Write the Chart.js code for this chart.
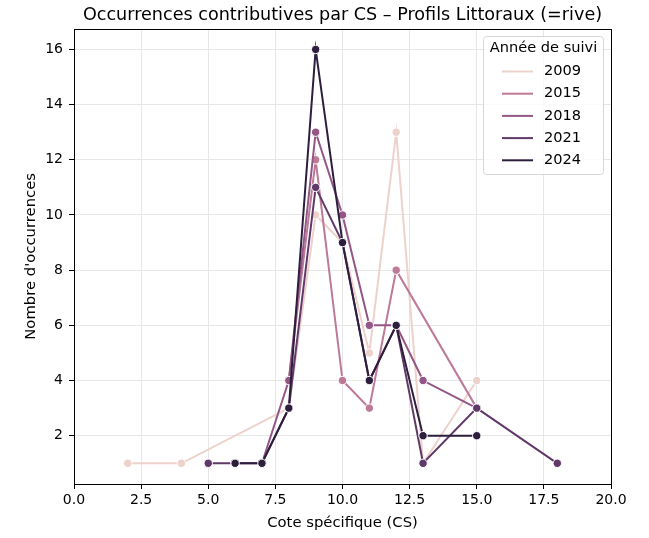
<!DOCTYPE html>
<html>
<head>
<meta charset="utf-8">
<script src="https://cdn.jsdelivr.net/npm/chart.js@4"></script>
<style>
  body { margin: 0; background: #fff; }
  canvas { display: block; }
</style>
</head>
<body>
<canvas id="c" width="649" height="538"></canvas>
<script>
// values
const years = ["2009", "2015", "2018", "2021", "2024"];
const colors = ["#edd1cb", "#bd7a98", "#935685", "#613969", "#2d1e3e"];

const cs2009 = [2, 4, 8, 9, 10, 11, 12, 13, 15];
const n2009  = [1, 1, 3, 10, 9, 5, 13, 1, 4];
const cs2015 = [8, 9, 10, 11, 12, 15];
const n2015  = [4, 12, 4, 3, 8, 3];
const cs2018 = [7, 8, 9, 10, 11, 12, 13, 15];
const n2018  = [1, 4, 13, 10, 6, 6, 4, 3];
const cs2021 = [5, 6, 7, 8, 9, 10, 11, 12, 13, 15, 18];
const n2021  = [1, 1, 1, 3, 11, 9, 4, 6, 1, 3, 1];
const cs2024 = [6, 7, 8, 9, 10, 11, 12, 13, 15];
const n2024  = [1, 1, 3, 16, 9, 4, 6, 2, 2];

const xTicks = [0, 2.5, 5, 7.5, 10, 12.5, 15, 17.5, 20];
const yTicks = [2, 4, 6, 8, 10, 12, 14, 16];

const series = [[cs2009, n2009], [cs2015, n2015], [cs2018, n2018], [cs2021, n2021], [cs2024, n2024]];

const font = "'DejaVu Sans', sans-serif";

const datasets = series.map(([xs, ys], i) => ({
  label: years[i],
  data: xs.map((x, j) => ({ x, y: ys[j] })),
  showLine: true,
  borderColor: colors[i],
  backgroundColor: colors[i],
  borderWidth: 2,
  pointRadius: 4.2,
  pointBackgroundColor: colors[i],
  pointBorderColor: "#fff",
  pointBorderWidth: 1,
  order: years.length - i,
}));

// title centred over the axes, not the whole canvas
const centreTitle = {
  id: "centreTitle",
  afterLayout(chart) {
    const t = chart.titleBlock;
    if (t) { t.left = chart.chartArea.left; t.right = chart.chartArea.right; }
  }
};

// frame on all four sides like matplotlib spines
const frame = {
  id: "frame",
  afterDatasetsDraw(chart) {
    const { ctx, chartArea: a } = chart;
    ctx.save();
    ctx.strokeStyle = "#000";
    ctx.lineWidth = 1;
    ctx.strokeRect(Math.round(a.left) + 0.5, Math.round(a.top) + 0.5,
      Math.round(a.right - a.left), Math.round(a.bottom - a.top));
    ctx.restore();
  }
};

// legend box inside the axes, top right
const boxLegend = {
  id: "boxLegend",
  afterDraw(chart) {
    const { ctx } = chart;
    const x = 483.5, y = 36.5, w = 120, h = 138;
    ctx.save();
    ctx.beginPath();
    ctx.roundRect(x, y, w, h, 3);
    ctx.fillStyle = "rgba(255,255,255,0.8)";
    ctx.fill();
    ctx.strokeStyle = "#d6d6d6";
    ctx.lineWidth = 1;
    ctx.stroke();
    ctx.fillStyle = "#000";
    ctx.font = "14.6px " + font;
    ctx.textBaseline = "middle";
    ctx.textAlign = "center";
    ctx.fillText("Année de suivi", x + w / 2, 48.5);
    ctx.textAlign = "left";
    chart.data.datasets.forEach((ds, i) => {
      const ly = 71.5 + i * 22.2;
      ctx.strokeStyle = ds.borderColor;
      ctx.lineWidth = 2;
      ctx.beginPath();
      ctx.moveTo(502, ly);
      ctx.lineTo(533, ly);
      ctx.stroke();
      ctx.fillStyle = "#000";
      ctx.fillText(ds.label, 544, ly);
    });
    ctx.restore();
  }
};

new Chart(document.getElementById("c"), {
  type: "scatter",
  data: { datasets },
  options: {
    responsive: false,
    animation: false,
    layout: { padding: { left: 0, right: 38, top: 0, bottom: 0 } },
    plugins: {
      legend: { display: false },
      tooltip: { enabled: false },
      title: {
        display: true,
        text: "Occurrences contributives par CS – Profils Littoraux (=rive)",
        color: "#000",
        font: { family: font, size: 17.6, weight: "normal", lineHeight: 1.15 },
        padding: { top: 5, bottom: 3.5 },
      },
    },
    scales: {
      x: {
        type: "linear",
        min: 0,
        max: 20,
        afterBuildTicks: (s) => { s.ticks = xTicks.map(v => ({ value: v })); },
        afterFit: (s) => { s.height = 54; },
        border: { display: false },
        grid: { color: "#e6e6e6", lineWidth: 1, tickColor: "#000", tickLength: 5 },
        ticks: {
          color: "#000",
          font: { family: font, size: 14 },
          padding: 3,
          maxRotation: 0,
          callback: (v) => v.toFixed(1),
        },
        title: {
          display: true,
          text: "Cote spécifique (CS)",
          color: "#000",
          font: { family: font, size: 14.8 },
          padding: { top: 0, bottom: 6 },
        },
      },
      y: {
        type: "linear",
        min: 0.25,
        max: 16.75,
        afterBuildTicks: (s) => { s.ticks = yTicks.map(v => ({ value: v })); },
        afterFit: (s) => { s.width = 74; },
        border: { display: false },
        grid: { color: "#e6e6e6", lineWidth: 1, tickColor: "#000", tickLength: 5 },
        ticks: {
          color: "#000",
          font: { family: font, size: 14 },
          padding: 6,
          callback: (v) => String(v),
        },
        title: {
          display: true,
          text: "Nombre d'occurrences",
          color: "#000",
          font: { family: font, size: 14.8 },
          padding: { top: 22, bottom: 0 },
        },
      },
    },
  },
  plugins: [centreTitle, frame, boxLegend],
});
</script>
</body>
</html>
